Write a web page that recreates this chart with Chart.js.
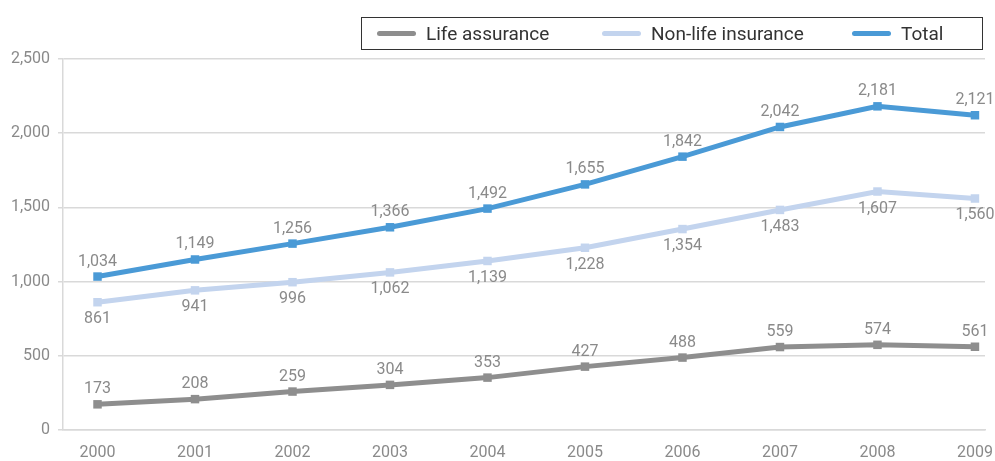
<!DOCTYPE html>
<html>
<head>
<meta charset="utf-8">
<script src="https://cdn.jsdelivr.net/npm/chart.js@4"></script>
<style>
  html, body { margin: 0; padding: 0; background: #fff; overflow: hidden; }
  #wrap { position: relative; width: 995px; height: 461px; }
  #lineChart { display: block; }
  #legend {
    position: absolute; left: 361px; top: 17px; width: 620px; height: 31px;
    border: 1px solid #333; font-family: Roboto, sans-serif; font-size: 19px; color: #333;
  }
  #legend .item { position: absolute; top: 0; height: 31px; display: flex; align-items: center; }
  #legend .swatch { width: 39px; height: 5px; border-radius: 3px; margin-right: 10px; }
</style>
</head>
<body>
<div id="wrap">
  <canvas id="lineChart" width="995" height="461"></canvas>
  <div id="legend"></div>
</div>
<script>
var years = [2000, 2001, 2002, 2003, 2004, 2005, 2006, 2007, 2008, 2009];
var lifeAssurance = [173, 208, 259, 304, 353, 427, 488, 559, 574, 561];
var nonLifeInsurance = [861, 941, 996, 1062, 1139, 1228, 1354, 1483, 1607, 1560];
var total = [1034, 1149, 1256, 1366, 1492, 1655, 1842, 2042, 2181, 2121];
var yTicks = [0, 500, 1000, 1500, 2000, 2500];

var seriesNames = ['Life assurance', 'Non-life insurance', 'Total'];
var seriesColors = ['#8e8e8e', '#c3d4ee', '#4a9ad6'];
// where each value label sits relative to its point (negative = above)
var labelOffsets = [-15, 17, -15];

function toPoints(values) {
    return values.map(function (v, i) { return { x: years[i], y: v }; });
}

var allValues = [lifeAssurance, nonLifeInsurance, total];
var datasets = allValues.map(function (values, i) {
    return {
        label: seriesNames[i],
        data: toPoints(values),
        borderColor: seriesColors[i],
        backgroundColor: seriesColors[i],
        borderWidth: 5,
        pointStyle: 'rect',
        pointRadius: 6,
        pointBorderWidth: 0,
        tension: 0,
        order: 3 - i
    };
});

// value labels drawn next to every point
var valueLabels = {
    id: 'valueLabels',
    afterDatasetsDraw: function (chart) {
        var ctx = chart.ctx;
        ctx.save();
        ctx.font = '16px Roboto, sans-serif';
        ctx.fillStyle = '#8a8a8a';
        ctx.textAlign = 'center';
        ctx.textBaseline = 'middle';
        chart.data.datasets.forEach(function (ds, i) {
            chart.getDatasetMeta(i).data.forEach(function (pt, j) {
                ctx.fillText(ds.data[j].y.toLocaleString('en-US'), pt.x, pt.y + labelOffsets[i]);
            });
        });
        ctx.restore();
    }
};

var ctx = document.getElementById('lineChart').getContext('2d');
new Chart(ctx, {
    type: 'line',
    data: { datasets: datasets },
    options: {
        responsive: false,
        animation: false,
        layout: { padding: { top: 59, right: 10, left: 0, bottom: 0 } },
        plugins: {
            legend: { display: false },
            tooltip: { enabled: false }
        },
        scales: {
            x: {
                type: 'linear',
                min: 1999.646,
                max: 2009.103,
                afterBuildTicks: function (scale) {
                    scale.ticks = years.map(function (y) { return { value: y }; });
                },
                afterFit: function (scale) {
                    scale.height = 31;
                    scale.paddingLeft = 0;
                    scale.paddingRight = 0;
                },
                grid: { display: false },
                border: { display: true, color: '#d9d9d9', width: 1.5 },
                ticks: {
                    autoSkip: false,
                    maxRotation: 0,
                    padding: 5,
                    color: '#8a8a8a',
                    font: { family: 'Roboto, sans-serif', size: 16 },
                    callback: function (v) { return String(v); }
                }
            },
            y: {
                min: 0,
                max: 2500,
                afterBuildTicks: function (scale) {
                    scale.ticks = yTicks.map(function (v) { return { value: v }; });
                },
                afterFit: function (scale) { scale.width = 63; },
                grid: { color: '#d9d9d9', lineWidth: 1.5, tickLength: 5 },
                border: { display: true, color: '#d9d9d9', width: 1.5 },
                ticks: {
                    padding: 8,
                    color: '#8a8a8a',
                    font: { family: 'Roboto, sans-serif', size: 16 },
                    callback: function (v) { return v.toLocaleString('en-US'); }
                }
            }
        }
    },
    plugins: [valueLabels]
});

// boxed legend across the top right
var legendX = [15, 240, 490];
var legend = document.getElementById('legend');
seriesNames.forEach(function (name, i) {
    var item = document.createElement('div');
    item.className = 'item';
    item.style.left = legendX[i] + 'px';
    var sw = document.createElement('span');
    sw.className = 'swatch';
    sw.style.background = seriesColors[i];
    var txt = document.createElement('span');
    txt.textContent = name;
    item.appendChild(sw);
    item.appendChild(txt);
    legend.appendChild(item);
});
</script>
</body>
</html>
